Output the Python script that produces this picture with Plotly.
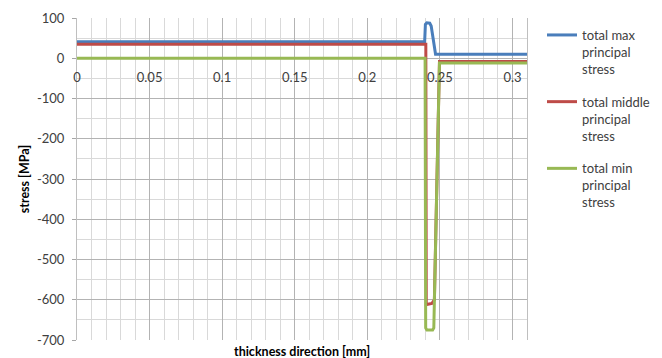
import plotly.graph_objects as go

# thickness direction [mm] and stress [MPa]
max_x = [0, 0.2395, 0.2400, 0.2410, 0.2430, 0.2440, 0.2470, 0.2500, 0.31]
max_y = [41, 41, 84, 88, 87, 80, 10, 10, 10]

mid_x = [0, 0.2403, 0.2406, 0.2445, 0.2462, 0.2497, 0.31]
mid_y = [35, 35, -612, -609, -600, -8, -8]

min_x = [0, 0.2398, 0.2402, 0.2410, 0.2450, 0.2458, 0.2497, 0.31]
min_y = [0, 0, -670, -675, -675, -670, -12, -12]

x_ticks = [0, 0.05, 0.1, 0.15, 0.2, 0.25, 0.3]
x_tick_text = ["0", "0.05", "0.1", "0.15", "0.2", "0.25", "0.3"]
y_ticks = [100, 0, -100, -200, -300, -400, -500, -600, -700]
y_tick_text = ["100", "0", "-100", "-200", "-300", "-400", "-500", "-600", "-700"]

names = ["total max<br>principal<br>stress",
         "total middle<br>principal<br>stress",
         "total min<br>principal<br>stress"]
colors = ["#4a7ebb", "#be4b48", "#98b954"]

FONT = "Lato, 'Open Sans', sans-serif"

fig = go.Figure()
for i, (xs, ys) in enumerate([(max_x, max_y), (mid_x, mid_y), (min_x, min_y)]):
    fig.add_trace(go.Scatter(x=xs, y=ys, mode="lines", name=names[i],
                             legendgroup=f"g{i}",
                             line=dict(color=colors[i], width=3)))

fig.update_layout(
    width=662, height=358,
    margin=dict(l=77, r=135, t=18, b=18, autoexpand=False),
    paper_bgcolor="white", plot_bgcolor="white",
    font=dict(family=FONT, size=13, color="#404040"),
    legend=dict(xref="container", yref="container",
                x=542 / 662, y=1 - 20 / 358, xanchor="left", yanchor="top",
                valign="top", tracegroupgap=13, maxheight=330,
                font=dict(family=FONT, size=13, color="#404040"),
                bgcolor="rgba(0,0,0,0)"),
    xaxis=dict(range=[0, 0.31], tickvals=x_ticks, ticktext=x_tick_text,
               anchor="free", position=0.875,
               showgrid=True, gridcolor="#b3b3b3", gridwidth=1,
               minor=dict(dtick=0.01, tick0=0, showgrid=True, gridcolor="#d9d9d9"),
               showline=False, zeroline=False, ticks="",
               ticklabelstandoff=10,
               tickfont=dict(size=13, color="#404040"),
               title=None),
    yaxis=dict(range=[-700, 100], tickvals=y_ticks, ticktext=y_tick_text,
               showgrid=True, gridcolor="#b3b3b3", gridwidth=1,
               minor=dict(dtick=50, tick0=0, showgrid=True, gridcolor="#d9d9d9"),
               showline=True, linecolor="#bfbfbf", mirror=True,
               zeroline=False, ticks="outside", ticklen=4, tickcolor="#a6a6a6",
               ticklabelstandoff=5,
               tickfont=dict(size=13, color="#404040"),
               title=dict(text="<b>stress [MPa]</b>", standoff=4,
                          font=dict(size=12.5, color="#000000"))),
)

fig.add_annotation(text="<b>thickness direction [mm]</b>", xref="paper", yref="paper",
                   x=0.5, y=0, yshift=-11, showarrow=False, yanchor="middle",
                   font=dict(family=FONT, size=12.5, color="#000000"))

fig.write_html("out.html")
